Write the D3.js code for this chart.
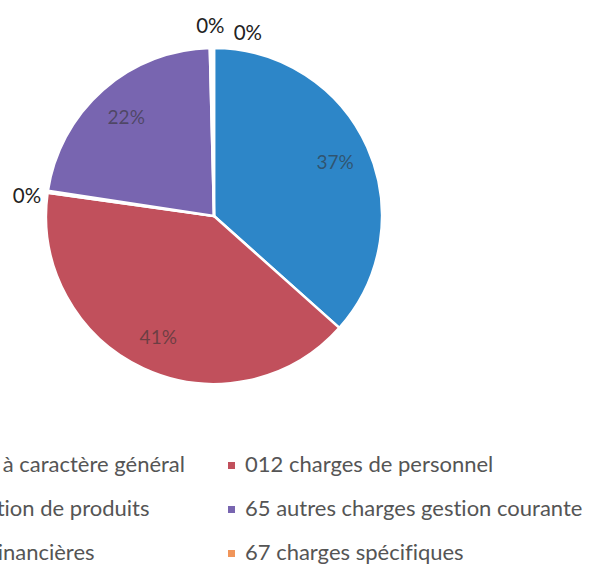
<!DOCTYPE html>
<html><head><meta charset="utf-8">
<script src="https://cdn.jsdelivr.net/npm/d3@7"></script>
<style>
html,body{margin:0;padding:0;background:#fff;}
svg{display:block;}
text{font-variant-ligatures:none;}
</style></head>
<body>
<svg id="chart" width="591" height="567"></svg>
<script>
// ---- data ----
const categories = [
  "011 charges à caractère général",
  "012 charges de personnel",
  "014 atténuation de produits",
  "65 autres charges gestion courante",
  "66 charges financières",
  "67 charges spécifiques"
];
const values = [36.6, 40.6, 0.2, 22.2, 0.2, 0.2];
const colors = ["#2d86c8", "#c1505c", "#93b45a", "#7865b0", "#46a8c4", "#f0955a"];
const insideLabel = [true, true, false, true, false, false];

// ---- layout ----
const svg = d3.select("#chart");
const cx = 214, cy = 216, R = 168;
const font = "Lato, 'Open Sans', 'Noto Sans', sans-serif";

const pie = d3.pie().sort(null).value(d => d.v);
const data = categories.map((c, i) => ({c, v: values[i], col: colors[i], inside: insideLabel[i]}));
const arcs = pie(data);
const total = d3.sum(values);

const arc = d3.arc().innerRadius(0).outerRadius(R);
const g = svg.append("g").attr("transform", `translate(${cx},${cy})`);

g.selectAll("path.slice").data(arcs).join("path")
  .attr("class", "slice")
  .attr("d", arc)
  .attr("fill", d => d.data.col)
  .attr("stroke", "#fff")
  .attr("stroke-width", 2.5)
  .attr("stroke-linejoin", "round");

const pct = d => Math.round(d.data.v / total * 100) + "%";

// inside labels
const inArc = d3.arc().innerRadius(R * 0.79).outerRadius(R * 0.79);
g.selectAll("text.in").data(arcs.filter(d => d.data.inside)).join("text")
  .attr("class", "in")
  .attr("transform", d => `translate(${inArc.centroid(d)})`)
  .attr("text-anchor", "middle")
  .attr("dominant-baseline", "central")
  .attr("font-family", font)
  .attr("font-size", 19)
  .attr("fill", "#333")
  .attr("fill-opacity", 0.6)
  .text(pct);

// outside labels (nudges to avoid overlap, as Excel does)
const outArc = d3.arc().innerRadius(R + 24).outerRadius(R + 24);
const nudge = {2: [3, 7], 4: [0, 1], 5: [35, 8]};
g.selectAll("text.out").data(arcs.filter(d => !d.data.inside)).join("text")
  .attr("class", "out")
  .attr("transform", d => {
    const [x, y] = outArc.centroid(d);
    const n = nudge[d.index] || [0, 0];
    return `translate(${x + n[0]},${y + n[1]})`;
  })
  .attr("text-anchor", "middle")
  .attr("dominant-baseline", "central")
  .attr("font-family", font)
  .attr("font-size", 20.5)
  .attr("fill", "#222")
  .text(pct);

// legend: two columns, three rows, row-major
const rowY = [472, 516, 560];
const legendFont = 22;
const leg = svg.append("g");
const items = leg.selectAll("g.item").data(data).join("g").attr("class", "item");
items.append("rect").attr("width", 7).attr("height", 7).attr("y", -10).attr("fill", d => d.col);
items.append("text")
  .attr("x", 17).attr("y", 0)
  .attr("font-family", font)
  .attr("font-size", legendFont)
  .attr("fill", "#555")
  .text(d => d.c);

// right column starts at x=228; left column (cropped) aligned so its first item ends at x=185
const firstLen = items.filter((d, i) => i === 0).select("text").node().getComputedTextLength();
const leftX = 185 - firstLen - 17;
const colX = [leftX, 228];
items.attr("transform", (d, i) => `translate(${colX[i % 2]},${rowY[Math.floor(i / 2)]})`);
</script>
</body></html>
